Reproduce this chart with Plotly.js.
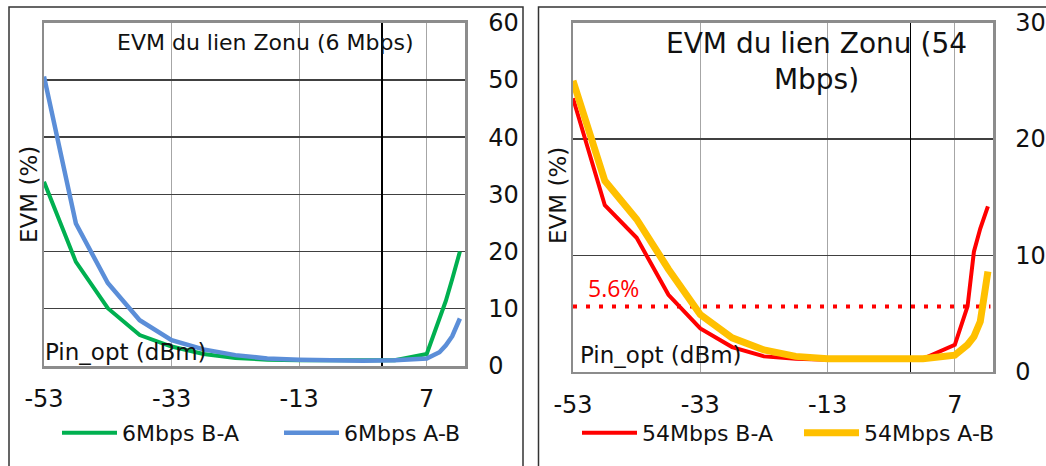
<!DOCTYPE html>
<html>
<head>
<meta charset="utf-8">
<script src="https://cdn.plot.ly/plotly-3.0.1.min.js"></script>
<style>html,body{margin:0;padding:0;background:#fff;}#chart{width:1046px;height:466px;}</style>
</head>
<body>
<div id="chart"></div>
<script>
// Optical input power (dBm)
const pinOpt = [-53, -48, -43, -38, -33, -28, -23, -18, -13, -8, -3, 2, 7, 9, 10, 11, 12.2];
// EVM (%) – 6 Mbps link
const evm6BA  = [32.2, 18.2, 10.1, 5.4, 3.4, 2.1, 1.4, 1.1, 1.0, 1.0, 0.9, 1.0, 2.1, 8.0, 11.4, 15.2, 20.0];
const evm6AB  = [50.6, 24.9, 14.5, 8.0, 4.5, 2.9, 1.9, 1.3, 1.1, 1.0, 0.9, 1.0, 1.3, 2.4, 3.6, 5.2, 8.3];
// EVM (%) – 54 Mbps link
const evm54BA = [23.5, 14.3, 11.5, 6.6, 3.7, 2.1, 1.3, 1.1, 1.0, 1.0, 1.0, 1.1, 2.3, 5.6, 10.3, 12.3, 14.2];
const evm54AB = [25.0, 16.4, 13.1, 8.8, 4.9, 2.9, 1.85, 1.3, 1.1, 1.1, 1.1, 1.1, 1.4, 2.3, 3.0, 4.3, 8.6];
// EVM limit for 54 Mbps
const limitX = [-53, 12.6];
const limitValue = 5.6;
const limitLabel = '5.6%';
// Tick labels
const xTickVals = [-53, -33, -13, 7];
const xTickText = ['-53', '-33', '-13', '7'];
const xRange = [-53, 13];
const yRanges = [[0, 60], [0, 30]];
// Texts
const titles = ['EVM du lien Zonu (6 Mbps)', 'EVM du lien Zonu (54<br>Mbps)'];
const yTitle = 'EVM (%)';
const xTitle = 'Pin_opt (dBm)';
const names = ['6Mbps B-A', '6Mbps A-B', '54Mbps B-A', '54Mbps A-B'];

const FONT = 'DejaVu Sans';
const W = 1046, H = 466;
const px = v => v / W, py = v => 1 - v / H;

const traces = [
  {x: pinOpt, y: evm6BA, name: names[0], type: 'scatter', mode: 'lines', xaxis: 'x', yaxis: 'y',
   line: {color: '#00B050', width: 4}, legend: 'legend'},
  {x: pinOpt, y: evm6AB, name: names[1], type: 'scatter', mode: 'lines', xaxis: 'x', yaxis: 'y',
   line: {color: '#5B8ED8', width: 4.5}, legend: 'legend'},
  {x: limitX, y: limitX.map(() => limitValue), type: 'scatter', mode: 'lines', xaxis: 'x2', yaxis: 'y2',
   line: {color: '#FF0000', width: 4, dash: '4px,9px'}, showlegend: false, hoverinfo: 'skip'},
  {x: pinOpt, y: evm54BA, name: names[2], type: 'scatter', mode: 'lines', xaxis: 'x2', yaxis: 'y2',
   line: {color: '#FF0000', width: 4}, legend: 'legend2'},
  {x: pinOpt, y: evm54AB, name: names[3], type: 'scatter', mode: 'lines', xaxis: 'x2', yaxis: 'y2',
   line: {color: '#FFC000', width: 7}, legend: 'legend2'}
];

function xAx(domain, anchor) {
  return {domain: domain, anchor: anchor, range: xRange,
    tickmode: 'array', tickvals: xTickVals, ticktext: xTickText,
    showgrid: true, gridcolor: '#A6A6A6', gridwidth: 1,
    zeroline: true, zerolinecolor: '#000000', zerolinewidth: 1.3,
    showline: true, mirror: true, linecolor: '#8C8C8C', linewidth: 2.5,
    ticks: '', ticklabelstandoff: 10,
    tickfont: {family: FONT, size: 24, color: '#111'}, fixedrange: true};
}
function yAx(domain, anchor, range, standoff) {
  return {domain: domain, anchor: anchor, range: range, dtick: 10, side: 'right',
    showgrid: true, gridcolor: '#404040', gridwidth: 1.3, zeroline: false,
    showline: true, mirror: true, linecolor: '#8C8C8C', linewidth: 2.5,
    ticks: '', ticklabelstandoff: standoff,
    tickfont: {family: FONT, size: 24, color: '#111'}, fixedrange: true};
}

const legendBase = {orientation: 'h', yanchor: 'middle', xanchor: 'left', y: py(433),
  font: {family: FONT, size: 22, color: '#111'}, itemwidth: 55, entrywidth: 152,
  bgcolor: 'rgba(0,0,0,0)', borderwidth: 0, tracegroupgap: 0};

const ann = (o) => Object.assign({xref: 'paper', yref: 'paper', showarrow: false,
  font: {family: FONT, size: 23, color: '#111'}}, o);

const layout = {
  width: W, height: H, margin: {l: 0, r: 0, t: 0, b: 0},
  paper_bgcolor: '#fff', plot_bgcolor: '#fff', showlegend: true,
  xaxis: xAx([px(44), px(465)], 'y'),
  yaxis: yAx([1 - 366 / H, 1 - 22.7 / H], 'x', yRanges[0], 16),
  xaxis2: xAx([px(573), px(993)], 'y2'),
  yaxis2: yAx([1 - 371.5 / H, 1 - 22.7 / H], 'x2', yRanges[1], 15),
  legend: Object.assign({}, legendBase, {x: px(57)}),
  legend2: Object.assign({}, legendBase, {x: px(577)}),
  annotations: [
    ann({text: titles[0], x: px(265), y: py(43), xanchor: 'center', yanchor: 'middle', font: {family: FONT, size: 22, color: '#111'}}),
    ann({text: titles[1], x: px(816), y: py(61.5), xanchor: 'center', yanchor: 'middle', font: {family: FONT, size: 28, color: '#111'}}),
    ann({text: yTitle, x: px(29), y: py(195), xanchor: 'center', yanchor: 'middle', textangle: -90}),
    ann({text: yTitle, x: px(558), y: py(196), xanchor: 'center', yanchor: 'middle', textangle: -90}),
    ann({text: xTitle, x: px(43), y: py(352), xanchor: 'left', yanchor: 'middle'}),
    ann({text: xTitle, x: px(578), y: py(355), xanchor: 'left', yanchor: 'middle'}),
    {text: limitLabel, xref: 'x2', yref: 'y2', x: limitX[0], y: limitValue, xanchor: 'left', yanchor: 'bottom',
     xshift: 13, yshift: 0, showarrow: false, font: {family: 'Open Sans', size: 23, color: '#FF0000'}}
  ],
  shapes: [
    {type: 'rect', xref: 'paper', yref: 'paper', x0: px(9), x1: px(523), y0: py(480), y1: py(7),
     line: {color: '#333', width: 1.5}, layer: 'below'},
    {type: 'rect', xref: 'paper', yref: 'paper', x0: px(538.5), x1: px(1060), y0: py(480), y1: py(7),
     line: {color: '#333', width: 1.5}, layer: 'below'}
  ]
};

Plotly.newPlot('chart', traces, layout, {staticPlot: true, displayModeBar: false});
</script>
</body>
</html>
